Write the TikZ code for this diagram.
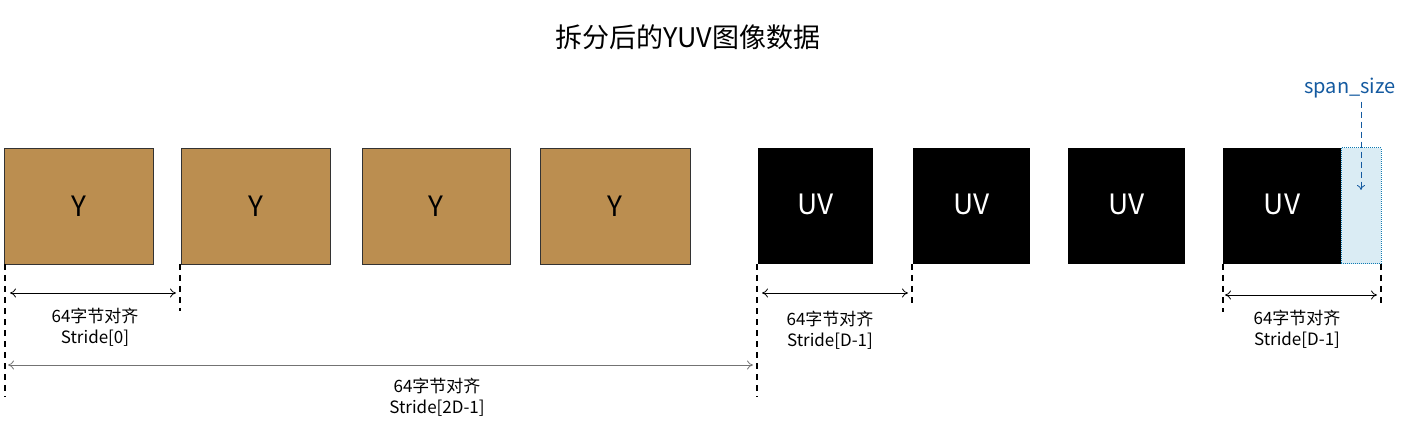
\documentclass[tikz,border=0pt]{standalone}
\usepackage{fontspec}
\setmainfont{Noto Sans CJK SC}
\usetikzlibrary{arrows.meta}
\definecolor{ybrown}{RGB}{187,142,80}
\definecolor{sblue}{RGB}{20,90,160}
\definecolor{lblue}{RGB}{218,236,244}
\begin{document}
\begin{tikzpicture}[x=1pt,y=-1pt,
  ybox/.style={draw=black!80,fill=ybrown,font=\fontsize{28}{30}\selectfont,text=black},
  uvbox/.style={fill=black,font=\fontsize{28}{30}\selectfont,text=white},
  dim/.style={{To[length=6pt,width=9pt]}-{To[length=6pt,width=9pt]},line width=0.8pt},
  guide/.style={dashed,line width=1.1pt,dash pattern=on 6pt off 5pt},
  lbl/.style={font=\fontsize{17}{21}\selectfont,align=center}]
\useasboundingbox (0,0) rectangle (1421,438);
\node[font=\fontsize{27}{30}\selectfont] (title) at (688,37) {拆分后的YUV图像数据};
\foreach \n/\a/\b in {y1/4/153,y2/181/330,y3/362/510,y4/540/690}{
  \path[ybox] (\a,148) rectangle (\b,264);
  \node[font=\fontsize{28}{30}\selectfont] (\n) at ({(\a+\b)/2},206) {Y};}
\foreach \n/\a/\b in {uv1/758/873,uv2/913/1030,uv3/1068/1185,uv4/1223/1341}{
  \path[uvbox] (\a,148) rectangle (\b,264);
  \node[font=\fontsize{28}{30}\selectfont,text=white] (\n) at ({(\a+\b)/2},204) {UV};}
\path[fill=lblue,draw=sblue!80!cyan,densely dotted,line width=1pt] (1341,148) rectangle (1381,264);
\foreach \x/\y in {5/397,180/311,757/397,912/305,1223/312,1381/307}
  \draw[guide] (\x,264) -- (\x,\y);
\coordinate (a1) at (10,293); \coordinate (a2) at (176,293);
\draw[dim] (a1) -- (a2);
\node[lbl] (l1) at (95,327) {64字节对齐\\Stride[0]};
\coordinate (b1) at (8,365); \coordinate (b2) at (753,365);
\draw[dim,draw=black!55] (b1) -- (b2);
\node[lbl] (l2) at (437,397) {64字节对齐\\Stride[2D-1]};
\coordinate (c1) at (762,293); \coordinate (c2) at (908,293);
\draw[dim] (c1) -- (c2);
\node[lbl] (l3) at (830,330) {64字节对齐\\Stride[D-1]};
\coordinate (d1) at (1225,295); \coordinate (d2) at (1377,295);
\draw[dim] (d1) -- (d2);
\node[lbl] (l4) at (1297,329) {64字节对齐\\Stride[D-1]};
\node[font=\fontsize{20}{22}\selectfont,text=sblue] (span) at (1350,88) {span\_size};
\coordinate (s2) at (1361,190);
\draw[sblue,dashed,dash pattern=on 6pt off 4pt,line width=0.8pt,-{To[length=5pt,width=8pt]}] (span.south -| s2) -- (s2);
\end{tikzpicture}
\end{document}
